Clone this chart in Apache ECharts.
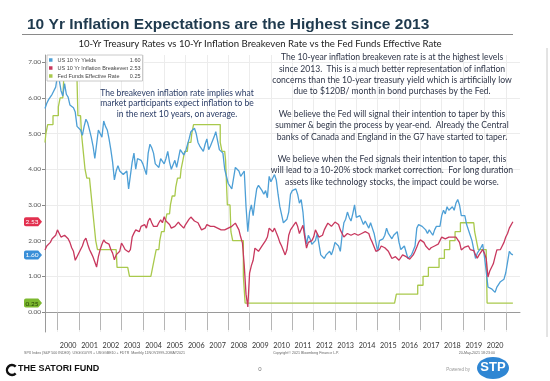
<!DOCTYPE html>
<html><head><meta charset="utf-8">
<script src="https://cdn.jsdelivr.net/npm/echarts@6/dist/echarts.min.js"></script>
<style>html,body{margin:0;padding:0;background:#fff}#c{width:550px;height:381px}</style>
</head><body><div id="c"></div>
<script>
// ---- data ----
const startYear = 1999, startMonth = 6;   // first month shown: Jun 1999
const monthsShown = 268;                   // axis runs to Sep 2021
const yTicks = [0, 1, 2, 3, 4, 5, 6, 7];
const seriesNames = ['US 10 Yr Yields', 'US 10 Yr Inflation Breakeven', 'Fed Funds Effective Rate'];
const seriesColors = ['#4d9fd6', '#c8385e', '#a9c94c'];
const tagColors = ['#3a8fd8', '#e2304f', '#7cb82f'];
const tagTextColors = ['#ffffff', '#ffffff', '#1f3a00'];

const yields10y = [
 5.70,5.85,5.95,5.90,6.10,6.05,6.30,
 6.62,6.50,6.20,6.05,6.40,6.10,6.02,5.80,5.80,5.72,5.60,5.20,
 5.15,5.10,4.95,5.20,5.40,5.30,5.10,4.90,4.65,4.30,4.70,5.10,
 5.05,4.90,5.35,5.20,5.10,4.85,4.55,4.20,3.70,3.95,4.10,3.95,
 4.00,3.85,3.85,3.95,3.45,3.45,4.20,4.45,4.00,4.30,4.35,4.25,
 4.15,4.00,3.85,4.45,4.70,4.60,4.45,4.15,4.10,4.05,4.30,4.25,
 4.15,4.30,4.50,4.20,4.00,3.95,4.25,4.05,4.30,4.55,4.50,4.40,
 4.50,4.55,4.85,5.05,5.10,5.15,5.00,4.75,4.65,4.65,4.50,4.70,
 4.85,4.55,4.65,4.65,4.90,5.05,4.80,4.55,4.60,4.45,4.00,4.05,
 3.60,3.55,3.45,3.75,4.05,4.00,3.95,3.80,3.85,3.95,2.95,2.25,
 2.80,3.00,2.70,3.10,3.45,3.55,3.50,3.40,3.30,3.40,3.20,3.80,
 3.65,3.60,3.85,3.70,3.30,2.95,2.95,2.50,2.55,2.60,2.80,3.30,
 3.40,3.45,3.45,3.30,3.05,3.15,2.80,2.20,1.90,2.15,2.05,1.90,
 1.85,2.00,2.20,1.90,1.60,1.65,1.50,1.60,1.65,1.70,1.60,1.75,
 1.95,1.90,1.85,1.70,2.15,2.50,2.60,2.80,2.65,2.55,2.75,3.00,
 2.65,2.65,2.70,2.65,2.45,2.55,2.55,2.35,2.50,2.35,2.20,2.15,
 1.70,2.00,1.95,2.05,2.15,2.35,2.20,2.20,2.05,2.15,2.20,2.25,
 1.95,1.75,1.80,1.85,1.85,1.50,1.50,1.60,1.60,1.85,2.35,2.45,
 2.45,2.40,2.40,2.30,2.20,2.30,2.30,2.15,2.30,2.40,2.40,2.40,
 2.70,2.85,2.75,2.95,2.85,2.85,2.95,2.85,3.05,3.15,3.00,2.70,
 2.65,2.70,2.45,2.50,2.15,2.00,2.05,1.50,1.65,1.70,1.80,1.90,
 1.55,1.15,0.70,0.65,0.65,0.65,0.55,0.70,0.68,0.85,0.85,0.92,
 1.10,1.40,1.70,1.63,1.60
];
const breakeven10y = [
 1.74,1.85,1.88,1.95,2.05,2.10,2.15,
 2.30,2.20,2.10,2.05,2.15,2.10,2.05,1.95,1.80,1.70,1.45,1.55,
 1.60,1.75,1.85,2.00,2.07,1.90,1.75,1.65,1.54,1.40,1.26,1.55,
 1.75,1.90,2.02,1.95,2.00,1.90,1.75,1.65,1.46,1.60,1.55,1.70,
 1.93,1.85,1.75,1.70,1.68,1.75,2.10,2.21,2.30,2.35,2.25,2.40,
 2.40,2.45,2.35,2.55,2.63,2.50,2.40,2.45,2.40,2.50,2.58,2.50,
 2.67,2.55,2.60,2.45,2.35,2.30,2.40,2.40,2.52,2.45,2.40,2.35,
 2.45,2.50,2.60,2.66,2.65,2.55,2.55,2.50,2.40,2.30,2.35,2.35,
 2.45,2.45,2.40,2.40,2.40,2.40,2.35,2.30,2.30,2.35,2.30,2.30,
 2.35,2.35,2.40,2.45,2.49,2.45,2.30,2.10,1.93,1.30,0.50,0.14,
 1.09,1.30,1.45,1.79,1.75,1.70,1.75,1.85,1.90,2.00,2.10,2.35,
 2.35,2.25,2.35,2.35,2.10,1.95,1.85,1.80,1.60,1.75,2.15,2.30,
 2.35,2.45,2.52,2.40,2.20,2.25,2.43,2.10,1.79,1.95,2.00,2.00,
 2.10,2.30,2.25,2.10,2.10,2.15,2.30,2.40,2.49,2.45,2.40,2.45,
 2.52,2.52,2.45,2.30,2.20,2.10,2.15,2.20,2.20,2.15,2.15,2.20,
 2.20,2.15,2.20,2.20,2.20,2.25,2.25,2.20,2.05,1.95,1.90,1.70,
 1.68,1.75,1.85,1.85,1.80,1.80,1.70,1.60,1.50,1.46,1.55,1.60,
 1.45,1.40,1.60,1.62,1.55,1.55,1.48,1.52,1.60,1.70,1.82,1.95,
 2.02,2.00,1.95,1.85,1.80,1.74,1.80,1.82,1.85,1.90,1.90,2.00,
 2.10,2.08,2.05,2.10,2.10,2.10,2.10,2.10,2.10,2.10,1.95,1.74,
 1.75,1.82,1.85,1.85,1.75,1.70,1.72,1.60,1.51,1.60,1.65,1.75,
 1.65,1.50,0.98,1.15,1.20,1.35,1.55,1.74,1.70,1.75,1.85,1.95,
 2.10,2.20,2.35,2.40,2.53
];
const fedFunds = [
 4.75,5.00,5.25,5.25,5.25,5.50,5.50,
 5.50,5.75,6.00,6.00,6.50,6.50,6.50,6.50,6.50,6.50,6.50,6.50,
 5.50,5.50,5.00,4.50,4.00,3.75,3.75,3.50,3.00,2.50,2.00,1.75,
 1.75,1.75,1.75,1.75,1.75,1.75,1.75,1.75,1.75,1.75,1.25,1.25,
 1.25,1.25,1.25,1.25,1.25,1.00,1.00,1.00,1.00,1.00,1.00,1.00,
 1.00,1.00,1.00,1.00,1.00,1.00,1.25,1.50,1.75,1.75,2.00,2.25,
 2.25,2.50,2.75,2.75,3.00,3.25,3.25,3.50,3.75,3.75,4.00,4.25,
 4.50,4.50,4.75,4.75,5.00,5.25,5.25,5.25,5.25,5.25,5.25,5.25,
 5.25,5.25,5.25,5.25,5.25,5.25,5.25,5.25,4.75,4.50,4.50,4.25,
 3.00,3.00,2.25,2.00,2.00,2.00,2.00,2.00,2.00,1.00,0.25,0.25,
 0.25,0.25,0.25,0.25,0.25,0.25,0.25,0.25,0.25,0.25,0.25,0.25,
 0.25,0.25,0.25,0.25,0.25,0.25,0.25,0.25,0.25,0.25,0.25,0.25,
 0.25,0.25,0.25,0.25,0.25,0.25,0.25,0.25,0.25,0.25,0.25,0.25,
 0.25,0.25,0.25,0.25,0.25,0.25,0.25,0.25,0.25,0.25,0.25,0.25,
 0.25,0.25,0.25,0.25,0.25,0.25,0.25,0.25,0.25,0.25,0.25,0.25,
 0.25,0.25,0.25,0.25,0.25,0.25,0.25,0.25,0.25,0.25,0.25,0.25,
 0.25,0.25,0.25,0.25,0.25,0.25,0.25,0.25,0.25,0.25,0.25,0.50,
 0.50,0.50,0.50,0.50,0.50,0.50,0.50,0.50,0.50,0.50,0.50,0.75,
 0.75,0.75,1.00,1.00,1.00,1.25,1.25,1.25,1.25,1.25,1.25,1.50,
 1.50,1.50,1.75,1.75,1.75,2.00,2.00,2.00,2.25,2.25,2.25,2.50,
 2.50,2.50,2.50,2.50,2.50,2.50,2.50,2.25,2.00,1.75,1.75,1.75,
 1.75,1.75,0.25,0.25,0.25,0.25,0.25,0.25,0.25,0.25,0.25,0.25,
 0.25,0.25,0.25,0.25,0.25
];
const titleText = '10 Yr Inflation Expectations are the Highest since 2013';
const subtitleText = '10-Yr Treasury Rates vs 10-Yr Inflation Breakeven Rate vs the Fed Funds Effective Rate';
const noteLeft = ['The breakeven inflation rate implies what', 'market participants expect inflation to be', 'in the next 10 years, on average.'];
const noteRight = [
 'The 10-year inflation breakeven rate is at the highest levels',
 'since 2013.  This is a much better representation of inflation',
 'concerns than the 10-year treasury yield which is artificially low',
 'due to $120B/ month in bond purchases by the Fed.',
 '',
 'We believe the Fed will signal their intention to taper by this',
 'summer & begin the process by year-end.  Already the Central',
 'banks of Canada and England in the G7 have started to taper.',
 '',
 'We believe when the Fed signals their intention to taper, this',
 'will lead to a 10-20% stock market correction.  For long duration',
 'assets like technology stocks, the impact could be worse.'
];

// ---- build ----
const categories = [];
for (let i = 0; i < monthsShown; i++) {
  const m0 = startMonth - 1 + i;
  const y = startYear + Math.floor(m0 / 12);
  const m = (m0 % 12) + 1;
  categories.push(y + '-' + (m < 10 ? '0' + m : m));
}
const allData = [yields10y, breakeven10y, fedFunds];
const lastVals = allData.map(a => a[a.length - 1]);
const isJan = (i, v) => v.slice(5) === '01';
const isJul = (i, v) => { const yr = +v.slice(0, 4); return v.slice(5) === '07' && yr >= 2000 && yr <= 2020; };

const tagPath = 'path://M2,0 L15,0 L19,5 L15,10 L2,10 Q0,10 0,8 L0,2 Q0,0 2,0 Z';
const FONT = 'Lato, "Liberation Sans", sans-serif';

const series = seriesNames.map((name, k) => ({
  name, type: 'line', data: allData[k], showSymbol: false, symbol: 'none',
  step: k === 2 ? 'middle' : false,
  clip: false,
  z: k === 2 ? 2 : (k === 0 ? 3 : 4),
  lineStyle: { color: seriesColors[k], width: 1.3 },
  itemStyle: { color: seriesColors[k] },
  markPoint: {
    symbol: tagPath, symbolSize: [18, 9], symbolOffset: [-12, 0], silent: true,
    itemStyle: { color: tagColors[k] },
    label: { show: true, color: tagTextColors[k], fontSize: 6.5, fontFamily: FONT, offset: [-1, 0.5],
             formatter: () => lastVals[k].toFixed(2) },
    data: [{ coord: [categories[0], lastVals[k]] }]
  }
}));

const chart = echarts.init(document.getElementById('c'), null, { renderer: 'canvas' });
chart.setOption({
  animation: false,
  backgroundColor: '#ffffff',
  title: {
    text: titleText, left: 22, top: 12,
    textStyle: { fontFamily: '"Liberation Sans", sans-serif', fontWeight: 'bold', fontSize: 15.5, color: '#1f3a4e' }
  },
  legend: {
    data: seriesNames, left: 47, top: 55, orient: 'vertical',
    itemWidth: 3.5, itemHeight: 3.5, itemGap: 2, icon: 'rect',
    padding: [2, 2, 2, 2], backgroundColor: '#ffffff', borderColor: '#bdbdbd', borderWidth: 0.8,
    selectedMode: false,
    textStyle: { fontSize: 5.5, color: '#444', fontFamily: '"Liberation Sans", sans-serif',
      rich: { n: { width: 73, fontSize: 5.5, color: '#444' }, v: { width: 10, align: 'right', fontSize: 5.5, color: '#444' } } },
    formatter: name => '{n|' + name + '}{v|' + lastVals[seriesNames.indexOf(name)].toFixed(2) + '}'
  },
  grid: { left: 45, right: 30, top: 55, bottom: 49, containLabel: false },
  xAxis: {
    type: 'category', data: categories, boundaryGap: false,
    axisLine: { lineStyle: { color: '#9a9a9a', width: 1 } },
    axisTick: { interval: isJan, length: 18, lineStyle: { color: '#b5b5b5' } },
    axisLabel: { interval: isJul, formatter: v => v.slice(0, 4), margin: 10, fontSize: 7.2, color: '#333', fontFamily: FONT },
    splitLine: { show: true, interval: isJan, lineStyle: { color: '#ececec', width: 1 } }
  },
  yAxis: {
    type: 'value', min: -0.56, max: 7.2,
    axisLine: { show: true, lineStyle: { color: '#9a9a9a', width: 1 } },
    axisTick: { show: true, length: 3, customValues: yTicks, lineStyle: { color: '#888' } },
    axisLabel: { customValues: yTicks, formatter: v => v.toFixed(2), fontSize: 6.5, color: '#555', margin: 4, fontFamily: FONT },
    splitLine: { show: true, lineStyle: { color: '#ececec', width: 1 } }
  },
  graphic: [
    { type: 'line', shape: { x1: 22, y1: 34.5, x2: 513, y2: 34.5 }, style: { stroke: '#8a8a8a', lineWidth: 1 } },
    { type: 'text', style: { text: subtitleText, x: 260, y: 39, textAlign: 'center', font: '9.6px ' + FONT, fill: '#222' } },
    { type: 'line', shape: { x1: 547, y1: 48, x2: 547, y2: 337 }, style: { stroke: '#c8c8c8', lineWidth: 1 } },
    { type: 'text', z: 100, style: { text: noteLeft.join('\n'), x: 177, y: 88, textAlign: 'center', font: '8.5px ' + FONT, lineHeight: 10.5, fill: '#2a3c66' } },
    { type: 'text', z: 100, style: { text: noteRight.join('\n'), x: 392, y: 52, textAlign: 'center', font: '8.6px ' + FONT, lineHeight: 11.3, fill: '#2e3548' } },
    { type: 'text', style: { text: 'SPX Index (S&P 500 INDEX)  USGG10YR + USGGBE10 + FDTR  Monthly 11NOV1999-20MAY2021', x: 24, y: 351, font: '3.6px "Liberation Sans", sans-serif', fill: '#666' } },
    { type: 'text', style: { text: 'Copyright\u00a9 2021 Bloomberg Finance L.P.', x: 306, y: 351, textAlign: 'center', font: '3.6px "Liberation Sans", sans-serif', fill: '#666' } },
    { type: 'text', style: { text: '20-May-2021 18:23:00', x: 495, y: 351, textAlign: 'right', font: '3.6px "Liberation Sans", sans-serif', fill: '#666' } },
    { type: 'arc', shape: { cx: 12, cy: 370, r: 5, startAngle: 0.75, endAngle: 5.55 }, style: { stroke: '#111', lineWidth: 2.4, fill: 'none' } },
    { type: 'text', style: { text: 'THE SATORI FUND', x: 18, y: 364.5, font: 'bold 9px "Liberation Sans", sans-serif', fill: '#111' } },
    { type: 'text', style: { text: '0', x: 260, y: 366, textAlign: 'center', font: '6px "Liberation Sans", sans-serif', fill: '#777' } },
    { type: 'text', style: { text: 'Powered by', x: 470, y: 367, textAlign: 'right', font: '4.5px "Liberation Sans", sans-serif', fill: '#999' } },
    { type: 'ellipse', shape: { cx: 493, cy: 368, rx: 16, ry: 11 }, style: { fill: '#2f86d3' } },
    { type: 'text', style: { text: 'STP', x: 493, y: 361, textAlign: 'center', font: 'bold 13px "Liberation Sans", sans-serif', fill: '#ffffff' } }
  ],
  series
});
</script></body></html>
